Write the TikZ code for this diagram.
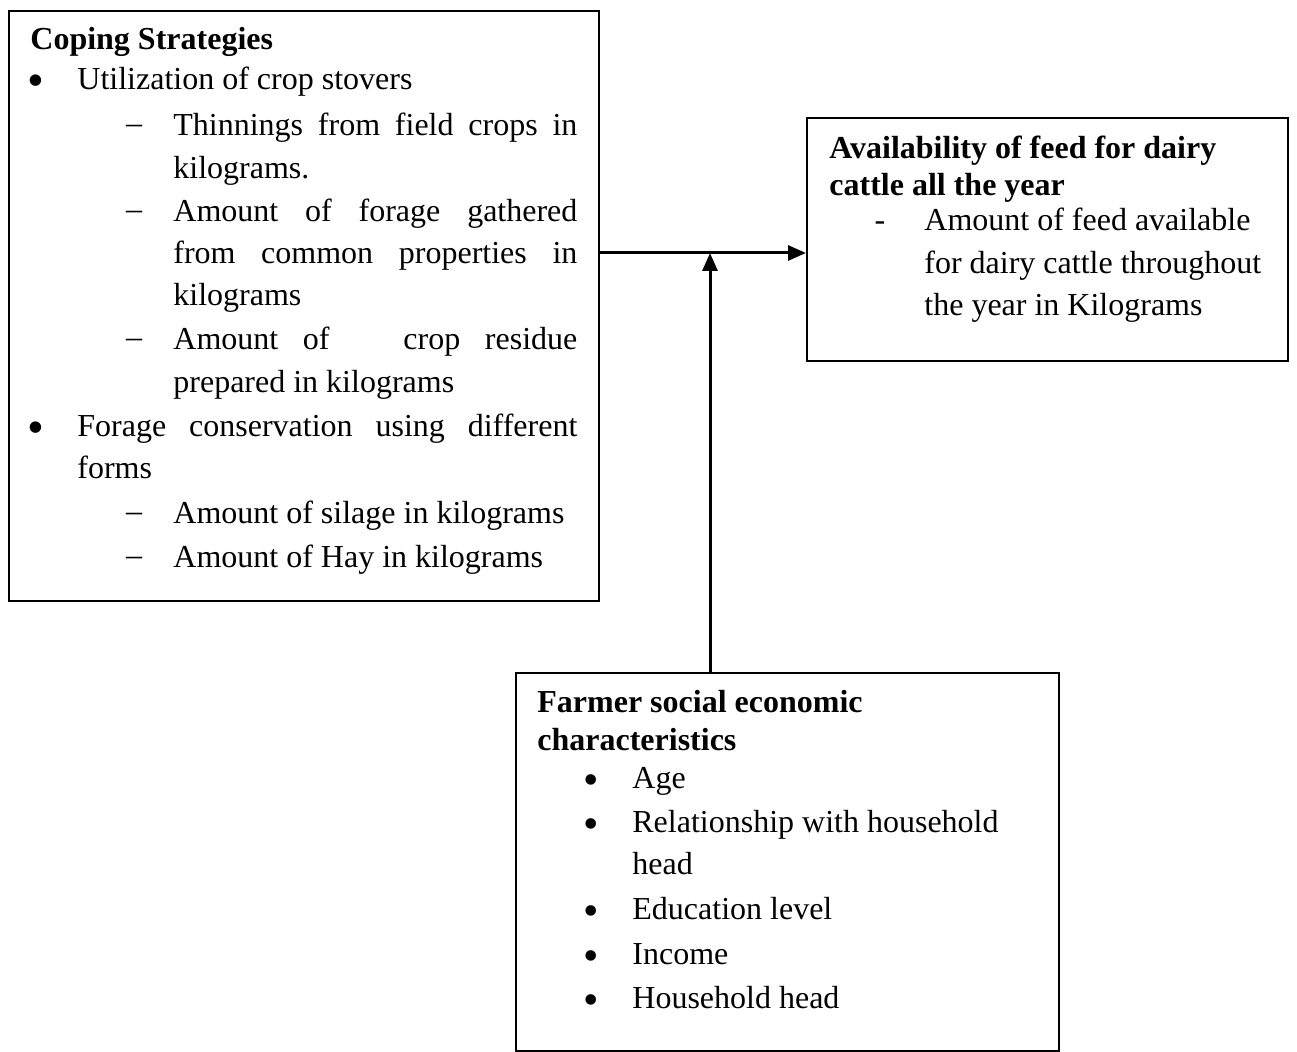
\documentclass[tikz,border=0pt]{standalone}
\usepackage{fontspec}
\setmainfont{Liberation Serif}
\usetikzlibrary{arrows.meta}
\begin{document}
\begin{tikzpicture}[x=0.5pt,y=-0.5pt,
  box/.style={draw,line width=1pt,inner sep=0pt,anchor=north west},
  txt/.style={anchor=base west,inner sep=0pt,font=\fontsize{16pt}{20pt}\selectfont},
  dsh/.style={anchor=base,inner sep=0pt,font=\fontsize{16pt}{20pt}\selectfont},
  bul/.style={anchor=center,inner sep=0pt,font=\fontsize{24pt}{26pt}\selectfont},
  bulb/.style={anchor=center,inner sep=0pt,font=\fontsize{22pt}{24pt}\selectfont},
  conn/.style={line width=1.5pt,-{Triangle[length=9pt,width=7.5pt]}}]
\useasboundingbox (0,0) rectangle (1297,1052);
% boxes
\node[box,minimum width=295pt,minimum height=295pt] (cope) at (8,10) {};
\node[box,minimum width=240.5pt,minimum height=121.5pt] (avail) at (806,117) {};
\node[box,minimum width=271.5pt,minimum height=189pt] (farm) at (515,672) {};
% box 1 text
\node[txt] (c0) at (30,50) {\textbf{Coping Strategies}};
\node[bul] (c1b) at (36,86) {\textbullet};
\node[txt] (c1) at (77,90) {Utilization of crop stovers};
\node[dsh] (c2b) at (134,134) {–};
\node[txt] (c2) at (173,136) {\makebox[202pt][s]{Thinnings from field crops in}};
\node[txt] (c3) at (173,179) {kilograms.};
\node[dsh] (c4b) at (134,220) {–};
\node[txt] (c4) at (173,222) {\makebox[202pt][s]{Amount of forage gathered}};
\node[txt] (c5) at (173,264) {\makebox[202pt][s]{from common properties in}};
\node[txt] (c6) at (173,306) {kilograms};
\node[dsh] (c7b) at (134,348) {–};
\node[txt] (c7) at (173,350) {\makebox[202pt][s]{Amount of\ \ \ crop residue}};
\node[txt] (c8) at (173,393) {prepared in kilograms};
\node[bul] (c9b) at (36,433) {\textbullet};
\node[txt] (c9) at (77,437) {\makebox[250pt][s]{Forage conservation using different}};
\node[txt] (c10) at (77,479) {forms};
\node[dsh] (c11b) at (134,522) {–};
\node[txt] (c11) at (173,524) {Amount of silage in kilograms};
\node[dsh] (c12b) at (134,566) {–};
\node[txt] (c12) at (173,568) {Amount of Hay in kilograms};
% box 2 text
\node[txt] (a0) at (829,159) {\textbf{Availability of feed for dairy}};
\node[txt] (a1) at (829,196) {\textbf{cattle all the year}};
\node[dsh] (a2b) at (880,231) {-};
\node[txt] (a2) at (924,231) {Amount of feed available};
\node[txt] (a3) at (924,274) {for dairy cattle throughout};
\node[txt] (a4) at (924,316) {the year in Kilograms};
% box 3 text
\node[txt] (f0) at (537,713) {\textbf{Farmer social economic}};
\node[txt] (f1) at (537,751) {\textbf{characteristics}};
\node[bulb] (f2b) at (591,784.5) {\textbullet};
\node[txt] (f2) at (632,789) {Age};
\node[bulb] (f3b) at (591,828.5) {\textbullet};
\node[txt] (f3) at (632,833) {Relationship with household};
\node[txt] (f4) at (632,875) {head};
\node[bulb] (f5b) at (591,915.5) {\textbullet};
\node[txt] (f5) at (632,920) {Education level};
\node[bulb] (f6b) at (591,960.5) {\textbullet};
\node[txt] (f6) at (632,965) {Income};
\node[bulb] (f7b) at (591,1004.5) {\textbullet};
\node[txt] (f7) at (632,1009) {Household head};
% connectors
\coordinate (j) at (710,253);
\draw[conn] (cope.east |- j) -- (avail.west |- j);
\draw[conn] (farm.north -| j) -- (j);
\end{tikzpicture}
\end{document}
